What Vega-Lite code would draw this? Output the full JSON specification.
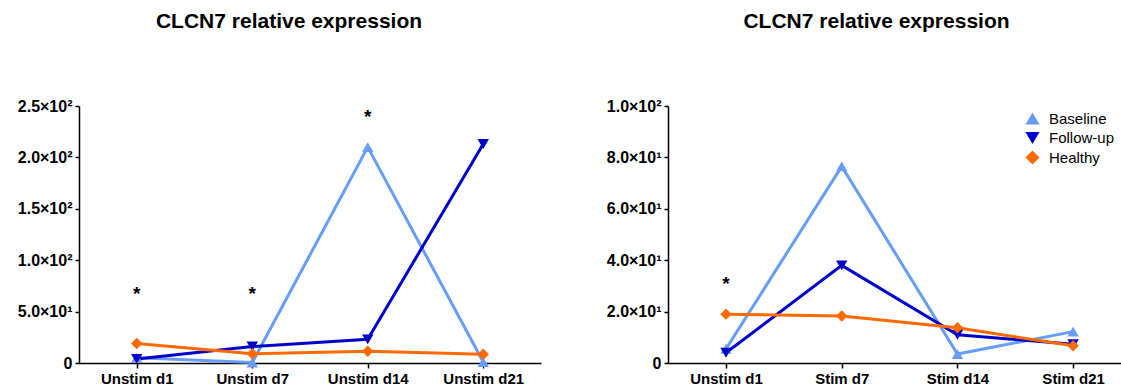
{
  "$schema": "https://vega.github.io/schema/vega-lite/v6.json",
  "background": "white",
  "padding": {"left": 17, "top": 11, "right": 0, "bottom": 0},
  "datasets": {
    "expr": [
      {"panel": "A", "time": "Unstim d1", "group": "Baseline", "value": 5},
      {"panel": "A", "time": "Unstim d7", "group": "Baseline", "value": 0.5},
      {"panel": "A", "time": "Unstim d14", "group": "Baseline", "value": 210},
      {"panel": "A", "time": "Unstim d21", "group": "Baseline", "value": 1},
      {"panel": "A", "time": "Unstim d1", "group": "Follow-up", "value": 4},
      {"panel": "A", "time": "Unstim d7", "group": "Follow-up", "value": 16},
      {"panel": "A", "time": "Unstim d14", "group": "Follow-up", "value": 23},
      {"panel": "A", "time": "Unstim d21", "group": "Follow-up", "value": 213},
      {"panel": "A", "time": "Unstim d1", "group": "Healthy", "value": 19},
      {"panel": "A", "time": "Unstim d7", "group": "Healthy", "value": 9},
      {"panel": "A", "time": "Unstim d14", "group": "Healthy", "value": 11.5},
      {"panel": "A", "time": "Unstim d21", "group": "Healthy", "value": 8.5},
      {"panel": "B", "time": "Unstim d1", "group": "Baseline", "value": 5.5},
      {"panel": "B", "time": "Stim d7", "group": "Baseline", "value": 76.5},
      {"panel": "B", "time": "Stim d14", "group": "Baseline", "value": 3.5},
      {"panel": "B", "time": "Stim d21", "group": "Baseline", "value": 12.2},
      {"panel": "B", "time": "Unstim d1", "group": "Follow-up", "value": 4},
      {"panel": "B", "time": "Stim d7", "group": "Follow-up", "value": 38},
      {"panel": "B", "time": "Stim d14", "group": "Follow-up", "value": 11},
      {"panel": "B", "time": "Stim d21", "group": "Follow-up", "value": 7.3},
      {"panel": "B", "time": "Unstim d1", "group": "Healthy", "value": 19},
      {"panel": "B", "time": "Stim d7", "group": "Healthy", "value": 18.3},
      {"panel": "B", "time": "Stim d14", "group": "Healthy", "value": 13.7},
      {"panel": "B", "time": "Stim d21", "group": "Healthy", "value": 6.7}
    ],
    "stars": [
      {"panel": "A", "time": "Unstim d1", "value": 70},
      {"panel": "A", "time": "Unstim d7", "value": 70},
      {"panel": "A", "time": "Unstim d14", "value": 242},
      {"panel": "B", "time": "Unstim d1", "value": 32}
    ]
  },
  "spacing": 127,
  "bounds": "flush",
  "resolve": {"scale": {"color": "independent", "shape": "independent"}},
  "config": {
    "view": {"stroke": null},
    "font": "Liberation Sans",
    "axis": {
      "grid": false,
      "title": null,
      "domainColor": "#000",
      "domainWidth": 1.5,
      "tickColor": "#000",
      "tickWidth": 1.5,
      "labelColor": "#000",
      "labelFont": "Liberation Sans",
      "labelFontWeight": "bold",
      "labelFontSize": 15
    },
    "axisX": {"labelAngle": 0, "tickSize": 5, "labelPadding": 3},
    "axisY": {"tickSize": 4, "labelPadding": 3, "labelFontSize": 16},
    "title": {
      "font": "Liberation Sans",
      "fontSize": 21,
      "fontWeight": "bold",
      "color": "#000",
      "offset": 66,
      "frame": "group",
      "anchor": "middle"
    }
  },
  "hconcat": [
    {
      "width": 462,
      "height": 257,
      "title": {"text": "CLCN7 relative expression", "dx": -21},
      "layer": [
        {
          "data": {"name": "expr"},
          "transform": [{"filter": "datum.panel === 'A'"}],
          "mark": {"type": "line", "strokeWidth": 3},
          "encoding": {
            "x": {"field": "time", "type": "nominal", "sort": ["Unstim d1", "Unstim d7", "Unstim d14", "Unstim d21"], "scale": {"type": "point", "padding": 0.5}},
            "y": {"field": "value", "type": "quantitative", "scale": {"domain": [0, 250], "nice": false},
                  "axis": {"values": [0, 50, 100, 150, 200, 250],
                           "labelExpr": "datum.value === 0 ? '0' : (datum.value < 100 ? format(datum.value / 10, '.1f') + '×10¹' : format(datum.value / 100, '.1f') + '×10²')"}},
            "stroke": {"field": "group", "type": "nominal", "scale": {"domain": ["Baseline", "Follow-up", "Healthy"], "range": ["#679CF8", "#0000C8", "#FF6A00"]}, "legend": null}
          }
        },
        {
          "data": {"name": "expr"},
          "transform": [{"filter": "datum.panel === 'A'"}],
          "mark": {"type": "point", "filled": true, "opacity": 1, "size": 130},
          "encoding": {
            "x": {"field": "time", "type": "nominal", "sort": ["Unstim d1", "Unstim d7", "Unstim d14", "Unstim d21"]},
            "y": {"field": "value", "type": "quantitative"},
            "color": {"field": "group", "type": "nominal", "scale": {"domain": ["Baseline", "Follow-up", "Healthy"], "range": ["#679CF8", "#0000C8", "#FF6A00"]}, "legend": null},
            "shape": {"field": "group", "type": "nominal", "scale": {"domain": ["Baseline", "Follow-up", "Healthy"], "range": ["triangle-up", "triangle-down", "diamond"]}, "legend": null}
          }
        },
        {
          "data": {"name": "stars"},
          "transform": [{"filter": "datum.panel === 'A'"}],
          "mark": {"type": "text", "text": "*", "fontSize": 19, "fontWeight": "bold", "dy": 3, "color": "#000", "font": "Liberation Sans"},
          "encoding": {
            "x": {"field": "time", "type": "nominal", "sort": ["Unstim d1", "Unstim d7", "Unstim d14", "Unstim d21"]},
            "y": {"field": "value", "type": "quantitative"}
          }
        }
      ]
    },
    {
      "width": 453,
      "height": 257,
      "title": {"text": "CLCN7 relative expression", "dx": -18},
      "layer": [
        {
          "data": {"name": "expr"},
          "transform": [{"filter": "datum.panel === 'B'"}],
          "mark": {"type": "line", "strokeWidth": 3},
          "encoding": {
            "x": {"field": "time", "type": "nominal", "sort": ["Unstim d1", "Stim d7", "Stim d14", "Stim d21"], "scale": {"type": "point", "padding": 0.4576, "align": 0.548}},
            "y": {"field": "value", "type": "quantitative", "scale": {"domain": [0, 100], "nice": false},
                  "axis": {"values": [0, 20, 40, 60, 80, 100],
                           "labelExpr": "datum.value === 0 ? '0' : (datum.value < 100 ? format(datum.value / 10, '.1f') + '×10¹' : format(datum.value / 100, '.1f') + '×10²')"}},
            "stroke": {"field": "group", "type": "nominal", "scale": {"domain": ["Baseline", "Follow-up", "Healthy"], "range": ["#679CF8", "#0000C8", "#FF6A00"]}, "legend": null}
          }
        },
        {
          "data": {"name": "expr"},
          "transform": [{"filter": "datum.panel === 'B'"}],
          "mark": {"type": "point", "filled": true, "opacity": 1, "size": 130},
          "encoding": {
            "x": {"field": "time", "type": "nominal", "sort": ["Unstim d1", "Stim d7", "Stim d14", "Stim d21"]},
            "y": {"field": "value", "type": "quantitative"},
            "color": {
              "field": "group", "type": "nominal",
              "scale": {"domain": ["Baseline", "Follow-up", "Healthy"], "range": ["#679CF8", "#0000C8", "#FF6A00"]},
              "legend": {
                "title": null,
                "orient": "none",
                "legendX": 357,
                "legendY": 5,
                "padding": 0,
                "labelFont": "Liberation Sans",
                "labelFontSize": 15,
                "labelColor": "#000",
                "labelOffset": 9,
                "rowPadding": 3.5,
                "symbolSize": 200,
                "symbolStrokeWidth": 0
              }
            },
            "shape": {"field": "group", "type": "nominal", "scale": {"domain": ["Baseline", "Follow-up", "Healthy"], "range": ["triangle-up", "triangle-down", "diamond"]}, "legend": null}
          }
        },
        {
          "data": {"name": "stars"},
          "transform": [{"filter": "datum.panel === 'B'"}],
          "mark": {"type": "text", "text": "*", "fontSize": 19, "fontWeight": "bold", "dy": 3, "color": "#000", "font": "Liberation Sans"},
          "encoding": {
            "x": {"field": "time", "type": "nominal", "sort": ["Unstim d1", "Stim d7", "Stim d14", "Stim d21"]},
            "y": {"field": "value", "type": "quantitative"}
          }
        }
      ]
    }
  ]
}
